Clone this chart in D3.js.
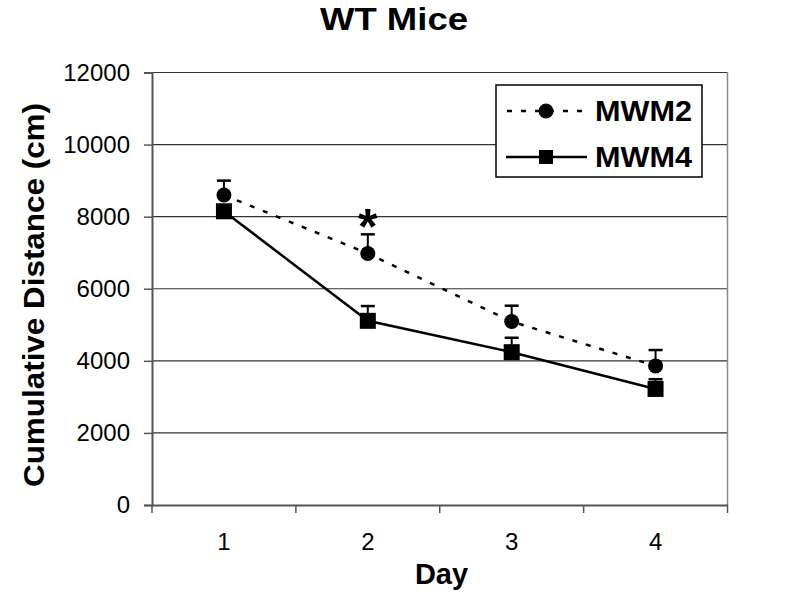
<!DOCTYPE html>
<html><head><meta charset="utf-8">
<script src="https://cdn.jsdelivr.net/npm/d3@7"></script>
<style>body{margin:0;background:#fff}svg{display:block}text{font-family:Arial,"Liberation Sans",sans-serif}</style>
</head><body><svg id="c" width="800" height="601"></svg>
<script>
const days = ["1","2","3","4"];
const mwm2 = [8600, 6980, 5090, 3860];
const mwm2Err = [400, 530, 440, 440];
const mwm4 = [8150, 5110, 4240, 3220];
const mwm4Err = [0, 410, 400, 270];
const yTicks = [0, 2000, 4000, 6000, 8000, 10000, 12000];
const sigDays = ["2"];

const FONT = "Arial, 'Liberation Sans', sans-serif";
const svg = d3.select("#c");
const L = 152, R = 727.5, T = 72.5, B = 505;
const x = d3.scaleBand().domain(days).range([L, R]);
const y = d3.scaleLinear().domain([0, 12000]).range([B, T]);
const cx = d => x(d) + x.bandwidth() / 2;

// gridlines
svg.append("g").selectAll("line").data(yTicks.filter(v => v > 0)).join("line")
  .attr("x1", L).attr("x2", R).attr("y1", d => y(d)).attr("y2", d => y(d))
  .attr("stroke", "#333").attr("stroke-width", 1.2);
// right border
svg.append("line").attr("x1", R).attr("x2", R).attr("y1", T).attr("y2", B)
  .attr("stroke", "#888").attr("stroke-width", 1.5);

// y axis
const ya = svg.append("g").attr("transform", `translate(${L},0)`)
  .call(d3.axisLeft(y).tickValues(yTicks).tickSize(8).tickPadding(14).tickFormat(d3.format("d")));
ya.select(".domain").attr("stroke", "#555").attr("stroke-width", 2);
ya.selectAll(".tick line").attr("stroke", "#555").attr("stroke-width", 1.5);
ya.selectAll("text").attr("font-size", 24).attr("fill", "#000").attr("font-family", FONT);

// x axis
const xa = svg.append("g").attr("transform", `translate(0,${B})`)
  .call(d3.axisBottom(x).tickSize(0).tickPadding(28));
xa.select(".domain").attr("stroke", "#555").attr("stroke-width", 2);
xa.selectAll("text").attr("font-size", 24).attr("fill", "#000").attr("font-family", FONT);
const bounds = d3.range(days.length + 1).map(i => L + i * x.step());
svg.append("g").selectAll("line").data(bounds).join("line")
  .attr("x1", d => d).attr("x2", d => d).attr("y1", B).attr("y2", B + 8)
  .attr("stroke", "#555").attr("stroke-width", 1.5);

const line = d3.line().x((d, i) => cx(days[i])).y(d => y(d));

// error bars
function errBars(vals, errs) {
  const g = svg.append("g");
  vals.forEach((v, i) => {
    if (errs[i] <= 0) return;
    const px = cx(days[i]);
    g.append("line").attr("x1", px).attr("x2", px).attr("y1", y(v)).attr("y2", y(v + errs[i]))
      .attr("stroke", "#000").attr("stroke-width", 2);
    g.append("line").attr("x1", px - 7).attr("x2", px + 7).attr("y1", y(v + errs[i])).attr("y2", y(v + errs[i]))
      .attr("stroke", "#000").attr("stroke-width", 2.5);
  });
}
errBars(mwm4, mwm4Err);
errBars(mwm2, mwm2Err);

svg.append("path").datum(mwm4).attr("d", line).attr("fill", "none")
  .attr("stroke", "#000").attr("stroke-width", 2.5);
svg.append("path").datum(mwm2).attr("d", line).attr("fill", "none")
  .attr("stroke", "#000").attr("stroke-width", 2.5).attr("stroke-dasharray", "5,9");

svg.append("g").selectAll("rect").data(mwm4).join("rect")
  .attr("x", (d, i) => cx(days[i]) - 8).attr("y", d => y(d) - 8)
  .attr("width", 16).attr("height", 16).attr("fill", "#000");
svg.append("g").selectAll("circle").data(mwm2).join("circle")
  .attr("cx", (d, i) => cx(days[i])).attr("cy", d => y(d)).attr("r", 7.5).attr("fill", "#000");

// significance
sigDays.forEach(d => {
  const i = days.indexOf(d);
  svg.append("text").attr("x", cx(d)).attr("y", y(mwm2[i] + mwm2Err[i]) + 10)
    .attr("text-anchor", "middle").attr("font-size", 50).attr("font-weight", "bold").text("*");
});

// legend
const lg = svg.append("g");
lg.append("rect").attr("x", 496).attr("y", 85).attr("width", 206).attr("height", 92)
  .attr("fill", "#fff").attr("stroke", "#000").attr("stroke-width", 1.5);
lg.append("line").attr("x1", 506).attr("x2", 587).attr("y1", 111).attr("y2", 111)
  .attr("stroke", "#000").attr("stroke-width", 2.5).attr("stroke-dasharray", "5,9").attr("stroke-dashoffset", -1);
lg.append("circle").attr("cx", 546).attr("cy", 111).attr("r", 7.5).attr("fill", "#000");
lg.append("line").attr("x1", 506).attr("x2", 587).attr("y1", 157).attr("y2", 157)
  .attr("stroke", "#000").attr("stroke-width", 2.5);
lg.append("rect").attr("x", 539).attr("y", 150).attr("width", 14).attr("height", 14).attr("fill", "#000");
lg.append("text").attr("x", 595).attr("y", 121).attr("font-size", 29).attr("font-weight", "bold")
  .attr("textLength", 97).attr("lengthAdjust", "spacingAndGlyphs").text("MWM2");
lg.append("text").attr("x", 595).attr("y", 167).attr("font-size", 29).attr("font-weight", "bold")
  .attr("textLength", 97).attr("lengthAdjust", "spacingAndGlyphs").text("MWM4");

// titles
svg.append("text").attr("x", 394).attr("y", 30).attr("text-anchor", "middle")
  .attr("font-size", 32).attr("font-weight", "bold")
  .attr("textLength", 148).attr("lengthAdjust", "spacingAndGlyphs").text("WT Mice");
svg.append("text").attr("x", 441.5).attr("y", 584).attr("text-anchor", "middle")
  .attr("font-size", 29).attr("font-weight", "bold").text("Day");
svg.append("text").attr("transform", `translate(44,295) rotate(-90)`).attr("text-anchor", "middle")
  .attr("font-size", 29).attr("font-weight", "bold")
  .attr("textLength", 384).attr("lengthAdjust", "spacingAndGlyphs").text("Cumulative Distance (cm)");
</script></body></html>
